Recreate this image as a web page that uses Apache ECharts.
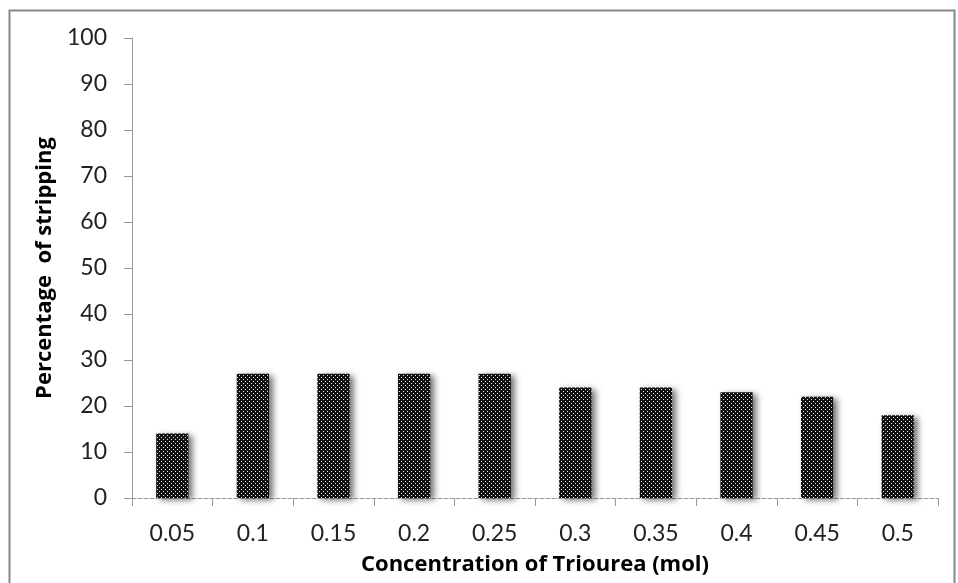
<!DOCTYPE html>
<html><head><meta charset="utf-8">
<script src="https://cdn.jsdelivr.net/npm/echarts@6/dist/echarts.min.js"></script>
<style>html,body{margin:0;padding:0;background:#fff}#c{width:958px;height:583px}</style>
</head><body><div id="c"></div>
<script>
const categories = ['0.05','0.1','0.15','0.2','0.25','0.3','0.35','0.4','0.45','0.5'];
const stripping = [14, 27, 27, 27, 27, 24, 24, 23, 22, 18];
const yTicks = {min: 0, max: 100, interval: 10};

const pc = document.createElement('canvas');
pc.width = 4; pc.height = 4;
const g = pc.getContext('2d');
g.fillStyle = '#111'; g.fillRect(0,0,4,4);
g.fillStyle = '#e8e8e8'; g.fillRect(1,1,1,1); g.fillRect(3,3,1,1);

const chart = echarts.init(document.getElementById('c'));
chart.setOption({
  animation: false,
  graphic: [{type:'rect', shape:{x:9.5,y:10.5,width:945,height:590}, style:{fill:'none',stroke:'#888',lineWidth:2}, silent:true}],
  grid: {left:132, right:20, top:38, bottom:85},
  xAxis: {
    type:'category', data: categories,
    name:'Concentration of Triourea (mol)', nameLocation:'middle', nameGap:56,
    nameTextStyle:{fontFamily:'Open Sans', fontWeight:'bold', fontSize:22, color:'#000'},
    axisLine:{lineStyle:{color:'#999', type:'dashed', width:1}},
    axisTick:{show:true, inside:false, length:8, lineStyle:{color:'#999'}},
    axisLabel:{fontFamily:'Lato', fontSize:23, color:'#222', margin:24}
  },
  yAxis: {
    type:'value', min:yTicks.min, max:yTicks.max, interval:yTicks.interval,
    name:'Percentage  of stripping', nameLocation:'middle', nameGap:75,
    nameTextStyle:{fontFamily:'Open Sans', fontWeight:'bold', fontSize:22, color:'#000'},
    axisLine:{show:true, lineStyle:{color:'#999'}},
    axisTick:{show:true, length:8, lineStyle:{color:'#999'}},
    splitLine:{show:false},
    axisLabel:{fontFamily:'Lato', fontSize:23, color:'#222', margin:25}
  },
  series: [{
    type:'bar', data: stripping, barWidth:'40%',
    itemStyle:{color:{image: pc, repeat:'repeat'}, shadowColor:'rgba(0,0,0,0.55)', shadowBlur:6, shadowOffsetX:4, shadowOffsetY:2}
  }]
});
</script></body></html>
